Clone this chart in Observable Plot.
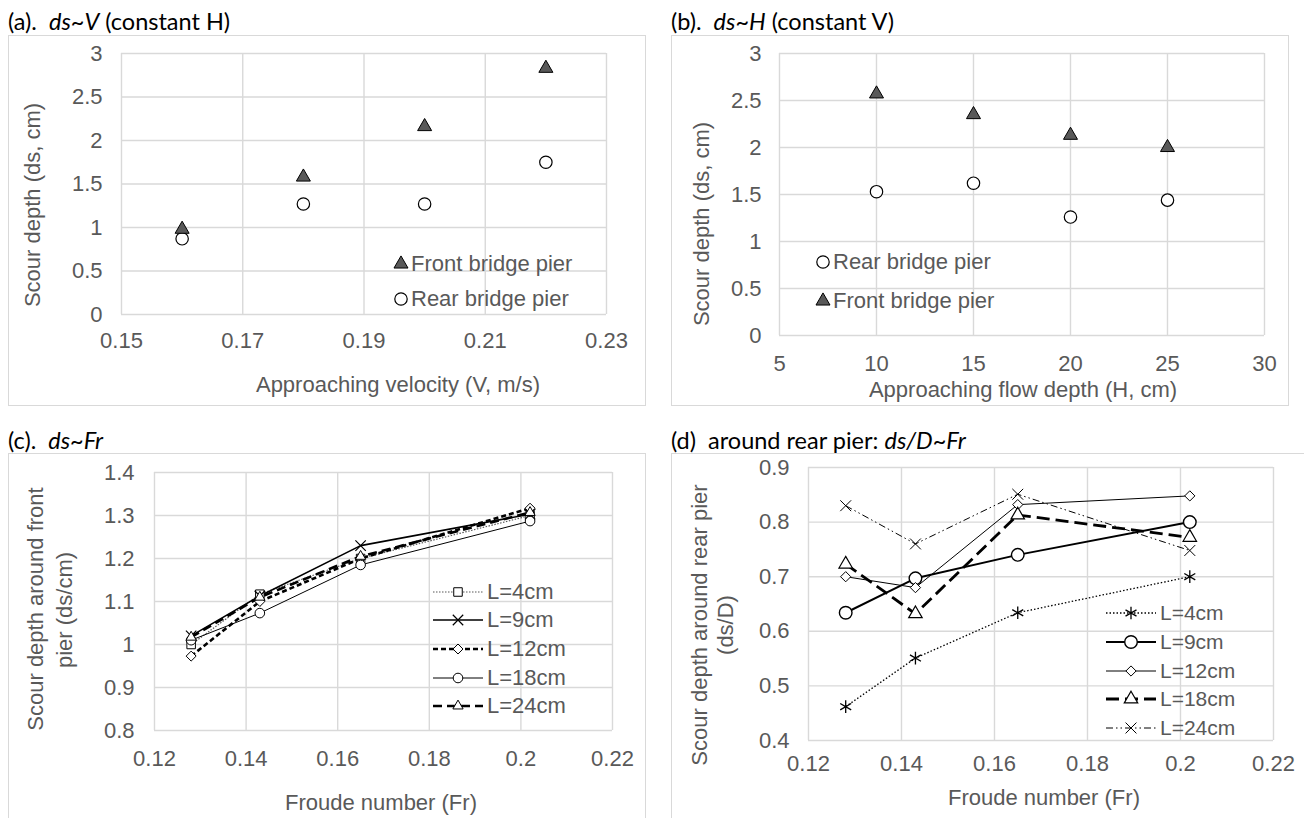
<!DOCTYPE html>
<html><head><meta charset="utf-8">
<script src="https://cdn.jsdelivr.net/npm/d3@7"></script>
<script src="https://cdn.jsdelivr.net/npm/@observablehq/plot@0.6"></script>
<style>
html,body{margin:0;padding:0;background:#fff;}
body{width:1304px;height:818px;overflow:hidden;position:relative;font-family:"Liberation Sans",Arial,sans-serif;}
.frame{position:absolute;border:1.5px solid #d9d9d9;box-sizing:border-box;}
.title{position:absolute;font-family:Lato,"Open Sans",sans-serif;font-size:23.5px;color:#000;white-space:nowrap;line-height:26px;}
.axt{position:absolute;font-size:22px;color:#595959;white-space:nowrap;line-height:24px;transform:translate(-50%,-50%);}
.axt.rot{transform:translate(-50%,-50%) rotate(-90deg);}
.lgt{position:absolute;color:#595959;white-space:nowrap;line-height:24px;}
svg.lg{position:absolute;overflow:visible;}
</style></head><body>
<script>
// ---------- data ----------
const velocityA = [0.16, 0.18, 0.20, 0.22];
const frontA = [0.98, 1.58, 2.16, 2.83];
const rearA = [0.87, 1.27, 1.27, 1.75];
const xTicksA = [0.15, 0.17, 0.19, 0.21, 0.23];
const yTicksA = [0, 0.5, 1, 1.5, 2, 2.5, 3];

const depthB = [10, 15, 20, 25];
const frontB = [2.57, 2.35, 2.13, 2.0];
const rearB = [1.53, 1.62, 1.26, 1.44];
const xTicksB = [5, 10, 15, 20, 25, 30];
const yTicksB = [0, 0.5, 1, 1.5, 2, 2.5, 3];

const froude = [0.128, 0.143, 0.165, 0.202];
const seriesNames = ["L=4cm", "L=9cm", "L=12cm", "L=18cm", "L=24cm"];
const frontC_L4 = [1.0, 1.117, 1.20, 1.30];
const frontC_L9 = [1.02, 1.113, 1.23, 1.303];
const frontC_L12 = [0.973, 1.10, 1.20, 1.317];
const frontC_L18 = [1.01, 1.073, 1.185, 1.287];
const frontC_L24 = [1.017, 1.11, 1.205, 1.307];
const xTicksC = [0.12, 0.14, 0.16, 0.18, 0.2, 0.22];
const yTicksC = [0.8, 0.9, 1, 1.1, 1.2, 1.3, 1.4];

const rearD_L4 = [0.462, 0.551, 0.634, 0.70];
const rearD_L9 = [0.634, 0.697, 0.74, 0.80];
const rearD_L12 = [0.70, 0.68, 0.832, 0.848];
const rearD_L18 = [0.723, 0.632, 0.813, 0.772];
const rearD_L24 = [0.83, 0.76, 0.851, 0.748];
const xTicksD = [0.12, 0.14, 0.16, 0.18, 0.2, 0.22];
const yTicksD = [0.4, 0.5, 0.6, 0.7, 0.8, 0.9];

// ---------- styles ----------
const GRID = "#d9d9d9", TXT = "#595959";
const symMap = {circle: d3.symbolCircle, triangle: d3.symbolTriangle, square: d3.symbolSquare,
  diamond2: d3.symbolDiamond2, times: d3.symbolTimes, asterisk: d3.symbolAsterisk};
const strokeSym = new Set(["times", "asterisk"]);

const styleC = [
  {sym: "square", r: 4.8, sw: 1.2, dash: "1.5,1.5", color: TXT, msw: 1},
  {sym: "times", r: 4.8, sw: 1.6, dash: null, color: "#000", msw: 1.2},
  {sym: "diamond2", r: 4.5, sw: 2.6, dash: "5,3", color: "#000", msw: 1},
  {sym: "circle", r: 4.8, sw: 1, dash: null, color: "#000", msw: 1},
  {sym: "triangle", r: 3.8, sw: 2.6, dash: "9,5", color: "#000", msw: 1}
];
const styleD = [
  {sym: "asterisk", r: 6, sw: 1.3, dash: "1.5,2", color: "#000", msw: 1.3},
  {sym: "circle", r: 6.3, sw: 2, dash: null, color: "#000", msw: 1.4},
  {sym: "diamond2", r: 4.6, sw: 1, dash: null, color: "#000", msw: 1},
  {sym: "triangle", r: 5, sw: 2.8, dash: "13,6", color: "#000", msw: 1.2},
  {sym: "times", r: 5, sw: 1, dash: "7,3,1.5,3,1.5,3", color: "#000", msw: 1}
];

// ---------- helpers ----------
function el(tag, cls, html, css) {
  const e = document.createElement(tag);
  if (cls) e.className = cls;
  if (html != null) e.innerHTML = html;
  Object.assign(e.style, css || {});
  document.body.appendChild(e);
  return e;
}
function frame(l, t, r, b) { el("div", "frame", null, {left: l + "px", top: t + "px", width: (r - l) + "px", height: (b - t) + "px"}); }
function title(html, l, cy) { el("div", "title", html, {left: l + "px", top: (cy - 13) + "px"}); }
function axTitle(text, cx, cy, rot) { el("div", "axt" + (rot ? " rot" : ""), text, {left: cx + "px", top: cy + "px"}); }

function chart(o) {
  const svg = Plot.plot({
    width: o.width, height: o.height,
    marginLeft: o.ml, marginRight: o.mr, marginTop: o.mt, marginBottom: o.mb,
    x: {domain: o.xDomain}, y: {domain: o.yDomain},
    style: {fontFamily: '"Liberation Sans", Arial, sans-serif', fontSize: "22px", color: TXT, background: "transparent", overflow: "visible"},
    marks: [
      Plot.gridX(o.xTicks, {stroke: GRID, strokeOpacity: 1, strokeWidth: 1.4}),
      Plot.gridY(o.yTicks, {stroke: GRID, strokeOpacity: 1, strokeWidth: 1.4}),
      Plot.axisX(o.xTicks, {tickSize: 0, tickPadding: o.xPad, tickFormat: d => String(d), label: null}),
      Plot.axisY(o.yTicks, {tickSize: 0, tickPadding: o.yPad, tickFormat: d => String(d), label: null}),
      ...o.marks
    ]
  });
  Object.assign(svg.style, {position: "absolute", left: o.left + "px", top: o.top + "px", maxWidth: "none"});
  document.body.appendChild(svg);
}

function seriesMarks(xs, ys, s) {
  const lineOpts = {x: xs, y: ys, stroke: s.color, strokeWidth: s.sw, strokeLinecap: "butt", strokeLinejoin: "round"};
  if (s.dash) lineOpts.strokeDasharray = s.dash;
  return Plot.line(ys, lineOpts);
}
function seriesDots(xs, ys, s) {
  return Plot.dot(ys, {x: xs, y: ys, symbol: s.sym, r: s.r, fill: strokeSym.has(s.sym) ? "none" : "white", stroke: "#000", strokeWidth: s.msw});
}

function symPath(sym, r) { return d3.symbol(symMap[sym], Math.PI * r * r)(); }

function legendMarker(cx, cy, sym, r, fill, sw) {
  const svg = d3.create("svg").attr("class", "lg").attr("width", 1).attr("height", 1)
    .style("left", cx + "px").style("top", cy + "px");
  svg.append("path").attr("d", symPath(sym, r)).attr("fill", fill).attr("stroke", "#000").attr("stroke-width", sw);
  document.body.appendChild(svg.node());
}
function legendLine(x1, x2, cy, s) {
  const svg = d3.create("svg").attr("class", "lg").attr("width", 1).attr("height", 1)
    .style("left", x1 + "px").style("top", cy + "px");
  const ln = svg.append("line").attr("x1", 0).attr("x2", x2 - x1).attr("y1", 0).attr("y2", 0)
    .attr("stroke", s.color).attr("stroke-width", s.sw);
  if (s.dash) ln.attr("stroke-dasharray", s.dash);
  svg.append("path").attr("transform", `translate(${(x2 - x1) / 2},0)`).attr("d", symPath(s.sym, s.r))
    .attr("fill", strokeSym.has(s.sym) ? "none" : "white").attr("stroke", "#000").attr("stroke-width", s.msw);
  document.body.appendChild(svg.node());
}
function legendText(text, l, cy, size) { el("div", "lgt", text, {left: l + "px", top: (cy - 12) + "px", fontSize: size + "px"}); }

// ---------- frames & titles ----------
frame(8, 35, 646, 406);
frame(671, 35, 1289, 406);
frame(8, 453, 646, 830);
frame(671, 453, 1320, 830);

title("(a).&nbsp; <i>ds~V</i> (constant H)", 8, 21);
title("(b).&nbsp; <i>ds~H</i> (constant V)", 671, 21);
title("(c).&nbsp; <i>ds~Fr</i>", 8, 440);
title("(d)&nbsp; around rear pier: <i>ds/D~Fr</i>", 671, 440);

// ---------- (a) ----------
chart({left: 8, top: 35, width: 638, height: 371, ml: 113, mr: 40, mt: 18, mb: 92,
  xDomain: [0.15, 0.23], yDomain: [0, 3], xTicks: xTicksA, yTicks: yTicksA, xPad: 18, yPad: 19,
  marks: [
    Plot.dot(rearA, {x: velocityA, y: rearA, symbol: "circle", r: 6.2, fill: "white", stroke: "#000", strokeWidth: 1.2}),
    Plot.dot(frontA, {x: velocityA, y: frontA, symbol: "triangle", r: 5.2, fill: "#595959", stroke: "#000", strokeWidth: 1})
  ]});
axTitle("Approaching velocity (V, m/s)", 398, 385);
axTitle("Scour depth (ds, cm)", 33, 205, true);
legendMarker(401, 264, "triangle", 5.2, "#595959", 1);
legendText("Front bridge pier", 411, 264, 22);
legendMarker(401, 299, "circle", 6.2, "white", 1.2);
legendText("Rear bridge pier", 411, 299, 22);

// ---------- (b) ----------
chart({left: 671, top: 35, width: 618, height: 371, ml: 108, mr: 25, mt: 18, mb: 71,
  xDomain: [5, 30], yDomain: [0, 3], xTicks: xTicksB, yTicks: yTicksB, xPad: 20, yPad: 18,
  marks: [
    Plot.dot(rearB, {x: depthB, y: rearB, symbol: "circle", r: 6.2, fill: "white", stroke: "#000", strokeWidth: 1.2}),
    Plot.dot(frontB, {x: depthB, y: frontB, symbol: "triangle", r: 5.2, fill: "#595959", stroke: "#000", strokeWidth: 1})
  ]});
axTitle("Approaching flow depth (H, cm)", 1023, 390);
axTitle("Scour depth (ds, cm)", 702, 224, true);
legendMarker(823, 262, "circle", 6.2, "white", 1.2);
legendText("Rear bridge pier", 833, 262, 22);
legendMarker(823, 301, "triangle", 5.2, "#595959", 1);
legendText("Front bridge pier", 833, 301, 22);

// ---------- (c) ----------
const seriesC = [frontC_L4, frontC_L9, frontC_L12, frontC_L18, frontC_L24];
chart({left: 8, top: 453, width: 638, height: 365, ml: 146, mr: 34, mt: 19, mb: 88,
  xDomain: [0.12, 0.22], yDomain: [0.8, 1.4], xTicks: xTicksC, yTicks: yTicksC, xPad: 20, yPad: 20,
  marks: [
    ...seriesC.map((ys, i) => seriesMarks(froude, ys, styleC[i])),
    ...seriesC.map((ys, i) => seriesDots(froude, ys, styleC[i]))
  ]});
axTitle("Froude number (Fr)", 381, 803);
axTitle("Scour depth around front", 36, 609, true);
axTitle("pier (ds/cm)", 65, 610, true);
const rowsC = [592, 620, 649, 678, 706];
seriesNames.forEach((n, i) => { legendLine(433, 483, rowsC[i], styleC[i]); legendText(n, 487, rowsC[i], 22); });

// ---------- (d) ----------
const seriesD = [rearD_L4, rearD_L9, rearD_L12, rearD_L18, rearD_L24];
chart({left: 671, top: 453, width: 633, height: 365, ml: 137, mr: 31, mt: 14, mb: 78,
  xDomain: [0.12, 0.22], yDomain: [0.4, 0.9], xTicks: xTicksD, yTicks: yTicksD, xPad: 15, yPad: 19,
  marks: [
    ...seriesD.map((ys, i) => seriesMarks(froude, ys, styleD[i])),
    ...seriesD.map((ys, i) => seriesDots(froude, ys, styleD[i]))
  ]});
axTitle("Froude number (Fr)", 1044, 798);
axTitle("Scour depth around rear pier", 700, 625, true);
axTitle("(ds/D)", 726, 625, true);
const rowsD = [613, 642, 671, 699, 728];
seriesNames.forEach((n, i) => { legendLine(1106, 1156, rowsD[i], styleD[i]); legendText(n, 1160, rowsD[i], 21); });
</script>
</body></html>
